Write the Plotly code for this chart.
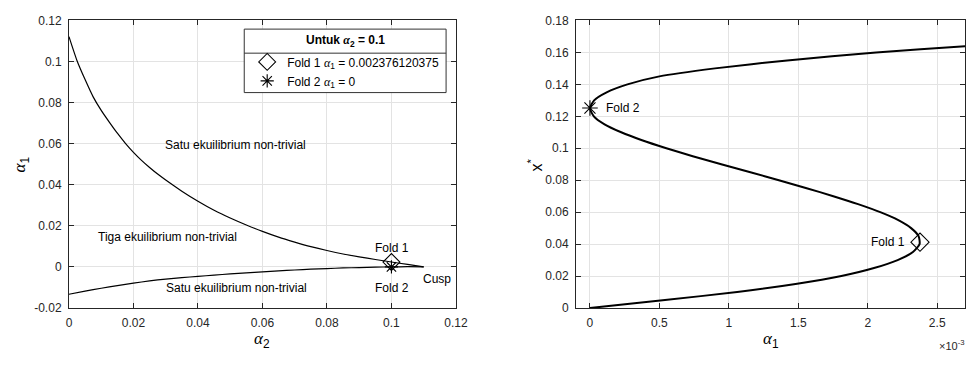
import plotly.graph_objects as go

# ---------------- data ----------------
# Left panel: fold curves in the (alpha2, alpha1) plane
upper_a2 = [0, 0.0025, 0.005, 0.0075, 0.01, 0.0125, 0.015, 0.0175, 0.02, 0.0225, 0.025, 0.0275, 0.03, 0.035,
            0.04, 0.045, 0.05, 0.055, 0.06, 0.065, 0.07, 0.075, 0.08, 0.085, 0.09, 0.095, 0.1, 0.105, 0.11]
upper_a1 = [0.1121, 0.1004, 0.0912, 0.0828, 0.0762, 0.0705, 0.0651, 0.0602, 0.0558, 0.0519, 0.0484, 0.0452,
            0.0423, 0.0369, 0.0320, 0.0276, 0.0238, 0.0204, 0.0173, 0.0145, 0.0121, 0.0099, 0.0080, 0.0063,
            0.0049, 0.0036, 0.0024, 0.0012, 0.0]
lower_a2 = [0, 0.005, 0.01, 0.015, 0.02, 0.025, 0.03, 0.035, 0.04, 0.045, 0.05, 0.055, 0.06, 0.065, 0.07,
            0.075, 0.08, 0.085, 0.09, 0.095, 0.1, 0.105, 0.11]
lower_a1 = [-0.0133, -0.0118, -0.0104, -0.0091, -0.0079, -0.0068, -0.0059, -0.0052, -0.0046, -0.0040,
            -0.0034, -0.0029, -0.0024, -0.0019, -0.0015, -0.0011, -0.0008, -0.0005, -0.0003, -0.0001,
            0.0, 0.0001, 0.0]

fold_a2 = 0.1
fold1_a1 = 0.002376120375
fold2_a1 = 0.0

# Right panel: equilibrium curve, alpha1 read at evenly spaced x* (alpha2 = 0.1)
eq_x = [0, 0.005, 0.01, 0.015, 0.02, 0.025, 0.03, 0.035, 0.04, 0.045, 0.05, 0.055, 0.06, 0.065, 0.07,
        0.075, 0.08, 0.085, 0.09, 0.095, 0.1, 0.105, 0.11, 0.115, 0.12, 0.125, 0.13, 0.135, 0.14, 0.145,
        0.15, 0.155, 0.16, 0.164, 0.165]
eq_a1 = [0, 0.00054, 0.00106, 0.00148, 0.00181, 0.002045, 0.002215, 0.002325, 0.002373, 0.002366, 0.002312,
         0.00222, 0.00209, 0.00193, 0.001752, 0.00156, 0.00136, 0.001155, 0.000945, 0.00074, 0.00055,
         0.000375, 0.000225, 0.000105, 0.000028, 0.0, 0.00003, 0.00012, 0.00027, 0.0005, 0.0009, 0.00142,
         0.00206, 0.00272, 0.00289]
fold1_x = 0.0412
fold2_x = 0.1252

# tick labels
left_xticks = [0, 0.02, 0.04, 0.06, 0.08, 0.1, 0.12]
left_xtext = ["0", "0.02", "0.04", "0.06", "0.08", "0.1", "0.12"]
left_yticks = [-0.02, 0, 0.02, 0.04, 0.06, 0.08, 0.1, 0.12]
left_ytext = ["-0.02", "0", "0.02", "0.04", "0.06", "0.08", "0.1", "0.12"]
right_xticks = [0, 0.0005, 0.001, 0.0015, 0.002, 0.0025]
right_xtext = ["0", "0.5", "1", "1.5", "2", "2.5"]
right_yticks = [0, 0.02, 0.04, 0.06, 0.08, 0.1, 0.12, 0.14, 0.16, 0.18]
right_ytext = ["0", "0.02", "0.04", "0.06", "0.08", "0.1", "0.12", "0.14", "0.16", "0.18"]

# ---------------- figure ----------------
W, H = 977, 365
FONT = "Liberation Sans, Arial, Helvetica, sans-serif"
AX = "#262626"
GRID = "#e3e3e3"
FS = 12
ALPHA = '<span style="font-family:\'Liberation Serif\', serif"><i>α</i></span>'

fig = go.Figure()

fig.add_trace(go.Scatter(x=upper_a2, y=upper_a1, mode="lines", line=dict(color="black", width=1.2, shape="spline", smoothing=0.6),
                         showlegend=False, xaxis="x", yaxis="y"))
fig.add_trace(go.Scatter(x=lower_a2, y=lower_a1, mode="lines", line=dict(color="black", width=1.2, shape="spline", smoothing=0.6),
                         showlegend=False, xaxis="x", yaxis="y"))
fig.add_trace(go.Scatter(x=[fold_a2], y=[fold1_a1], mode="markers",
                         marker=dict(symbol="diamond-open", size=13, color="black", line=dict(width=1.1)),
                         name="Fold 1 " + ALPHA + "<sub>1</sub> = 0.002376120375", xaxis="x", yaxis="y"))
fig.add_trace(go.Scatter(x=[fold_a2], y=[fold2_a1], mode="markers",
                         marker=dict(symbol="asterisk-open", size=11, color="black", line=dict(width=1.1, color="black")),
                         name="Fold 2 " + ALPHA + "<sub>1</sub> = 0", xaxis="x", yaxis="y"))

fig.add_trace(go.Scatter(x=eq_a1, y=eq_x, mode="lines", line=dict(color="black", width=2, shape="spline", smoothing=0.6),
                         showlegend=False, xaxis="x2", yaxis="y2", cliponaxis=True))
fig.add_trace(go.Scatter(x=[fold1_a1], y=[fold1_x], mode="markers",
                         marker=dict(symbol="diamond-open", size=14, color="black", line=dict(width=1.1)),
                         showlegend=False, xaxis="x2", yaxis="y2"))
fig.add_trace(go.Scatter(x=[0], y=[fold2_x], mode="markers",
                         marker=dict(symbol="asterisk-open", size=13, color="black", line=dict(width=1.1, color="black")),
                         showlegend=False, xaxis="x2", yaxis="y2"))

def px_x(p):
    return p / W

def px_y(p):
    return 1 - p / H

common = dict(showline=True, linecolor=AX, linewidth=1, mirror="ticks", ticks="inside", ticklen=5,
              tickcolor=AX, tickwidth=1, showgrid=True, gridcolor=GRID, gridwidth=1, zeroline=False,
              tickfont=dict(family=FONT, size=FS, color=AX), ticklabelstandoff=4)

fig.update_layout(
    width=W, height=H,
    margin=dict(l=0, r=0, t=0, b=0),
    paper_bgcolor="white", plot_bgcolor="white",
    font=dict(family=FONT, color=AX),
    xaxis=dict(domain=[px_x(67), px_x(460)], range=[0, 0.12], tickvals=left_xticks, ticktext=left_xtext, anchor="y", **common),
    yaxis=dict(domain=[px_y(313), px_y(14)], range=[-0.02, 0.12], tickvals=left_yticks, ticktext=left_ytext, anchor="x", **common),
    xaxis2=dict(domain=[px_x(582), 1.0], range=[-0.0001, 0.0027], tickvals=right_xticks, ticktext=right_xtext, anchor="y2", **common),
    yaxis2=dict(domain=[px_y(313), px_y(14)], range=[0, 0.18], tickvals=right_yticks, ticktext=right_ytext, anchor="x2", **common),
    legend=dict(x=px_x(248), y=px_y(42), xanchor="left", yanchor="top",
                bgcolor="rgba(0,0,0,0)", borderwidth=0,
                font=dict(family=FONT, size=FS, color="black"),
                itemwidth=30, tracegroupgap=0),
)

# legend frame, drawn behind the (transparent) legend
fig.add_shape(type="rect", xref="paper", yref="paper", x0=px_x(245), x1=px_x(450), y0=px_y(89), y1=px_y(23),
              line=dict(color="#333333", width=1), fillcolor="white", layer="above")
fig.add_shape(type="line", xref="paper", yref="paper", x0=px_x(245), x1=px_x(450), y0=px_y(48), y1=px_y(48),
              line=dict(color="#333333", width=1), layer="above")

ann = []
def text_ann(x, y, s, xref="x", yref="y", size=FS, xanchor="center", yanchor="middle", **kw):
    ann.append(dict(x=x, y=y, xref=xref, yref=yref, text=s, showarrow=False, xanchor=xanchor, yanchor=yanchor,
                    font=dict(family=FONT, size=size, color="black"), **kw))

text_ann(0.0516, 0.0595, "Satu ekuilibrium non-trivial")
text_ann(0.0307, 0.0148, "Tiga ekuilibrium non-trivial")
text_ann(0.0518, -0.0103, "Satu ekuilibrium non-trivial")
text_ann(0.1001, 0.0094, "Fold 1")
text_ann(0.1001, -0.0105, "Fold 2")
text_ann(0.1142, -0.006, "Cusp")
text_ann(0.0001, fold2_x, "Fold 2", xref="x2", yref="y2", xanchor="left")
text_ann(0.00228, fold1_x, "Fold 1", xref="x2", yref="y2", xanchor="right")

# legend title
text_ann(px_x(347.5), px_y(35.5), "<b>Untuk " + ALPHA + "<sub>2</sub> = 0.1</b>", xref="paper", yref="paper", size=FS)

# axis titles
text_ann(px_x(263), px_y(346), ALPHA + "<sub>2</sub>", xref="paper", yref="paper", size=17)
text_ann(px_x(780), px_y(346), ALPHA + "<sub>1</sub>", xref="paper", yref="paper", size=17)
text_ann(px_x(18), px_y(164), ALPHA + "<sub>1</sub>", xref="paper", yref="paper", size=17, textangle=-90)
text_ann(px_x(540), px_y(164), "x<sup>*</sup>", xref="paper", yref="paper", size=16, textangle=-90)
ann.append(dict(x=1.0, y=px_y(352), xref="paper", yref="paper", text="×10<sup>-3</sup>", showarrow=False,
                xanchor="right", yanchor="middle", xshift=2, font=dict(family=FONT, size=11, color=AX)))

fig.update_layout(annotations=ann)

fig.write_html("out.html")
